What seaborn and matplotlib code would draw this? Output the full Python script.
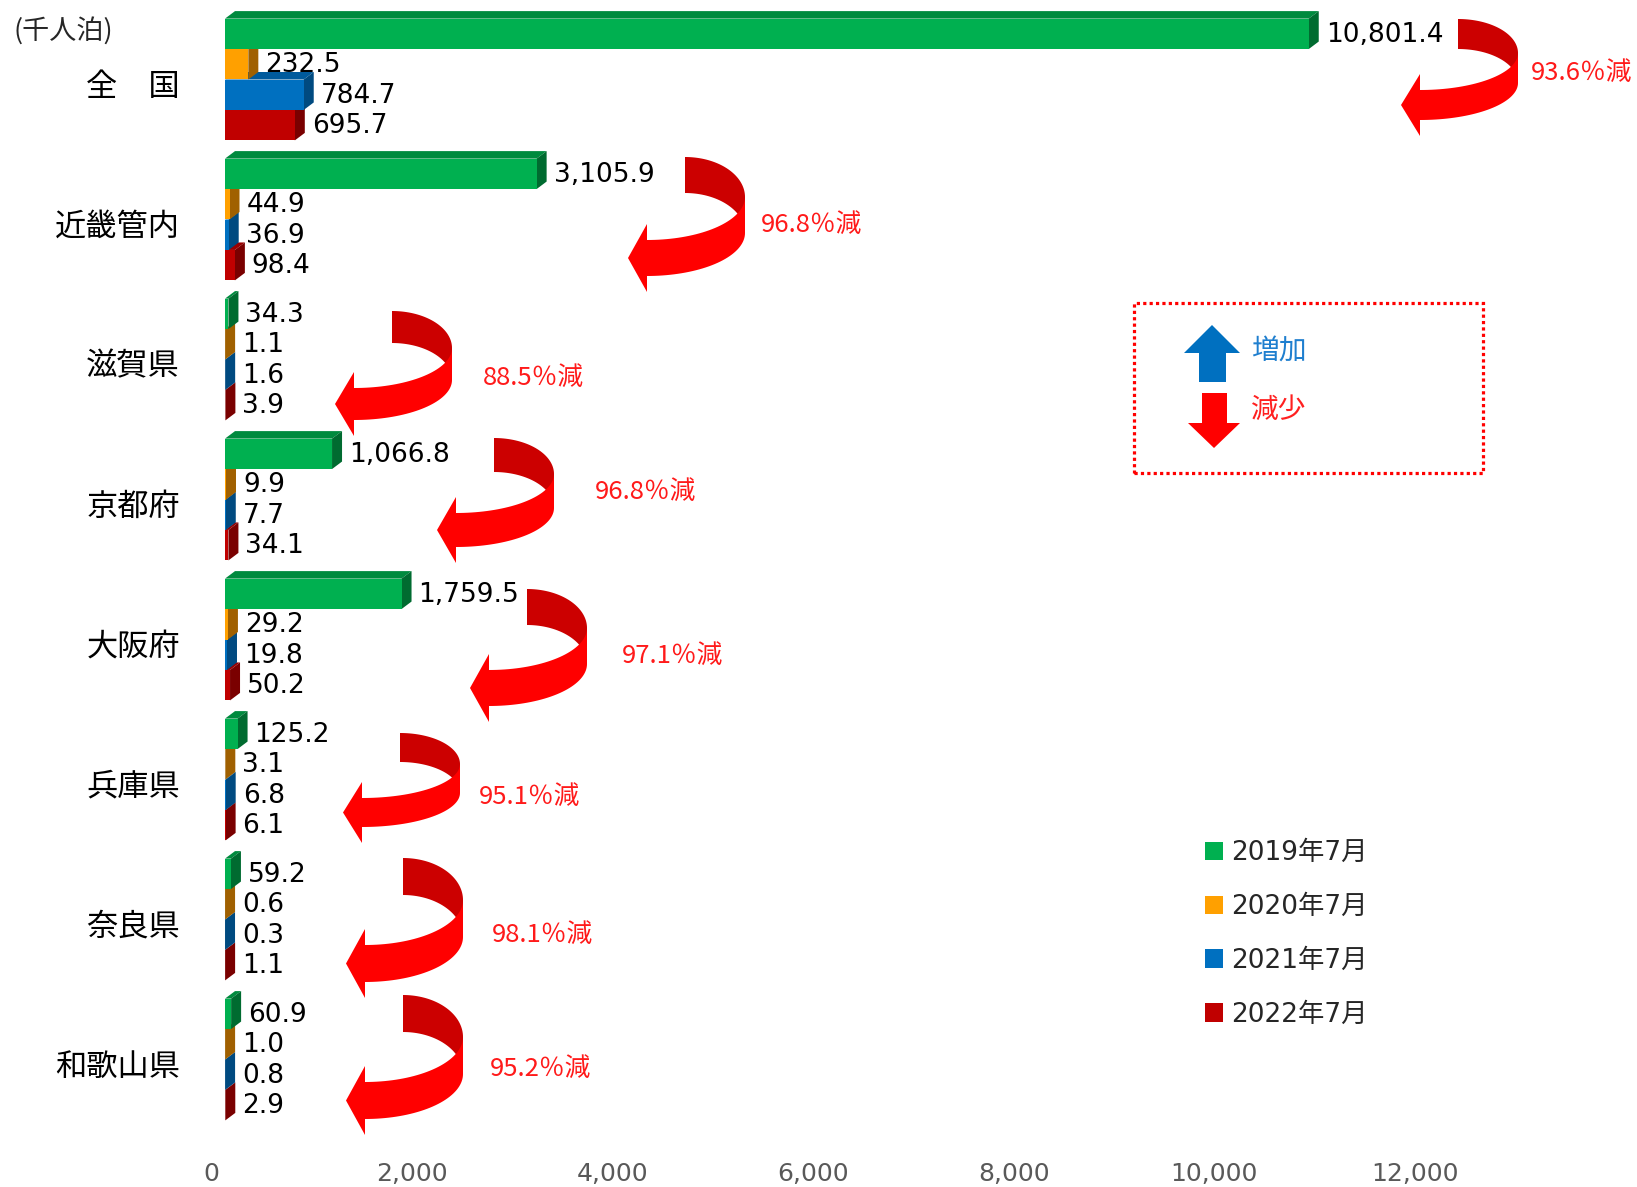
import matplotlib
matplotlib.use("Agg")
import numpy as np
import pandas as pd
import matplotlib.pyplot as plt
import seaborn as sns
from matplotlib.patches import Polygon, Rectangle
from matplotlib.transforms import ScaledTranslation

# ---------------- data ----------------
regions = ['全　国', '近畿管内', '滋賀県', '京都府', '大阪府', '兵庫県', '奈良県', '和歌山県']
periods = ['2019年7月', '2020年7月', '2021年7月', '2022年7月']
v2019 = [10801.4, 3105.9, 34.3, 1066.8, 1759.5, 125.2, 59.2, 60.9]
v2020 = [232.5, 44.9, 1.1, 9.9, 29.2, 3.1, 0.6, 1.0]
v2021 = [784.7, 36.9, 1.6, 7.7, 19.8, 6.8, 0.3, 0.8]
v2022 = [695.7, 98.4, 3.9, 34.1, 50.2, 6.1, 1.1, 2.9]
change_labels = ['93.6％減', '96.8％減', '88.5％減', '96.8％減',
                 '97.1％減', '95.1％減', '98.1％減', '95.2％減']
xtick_values = [0, 2000, 4000, 6000, 8000, 10000, 12000]
unit_label = '(千人泊)'
key_up, key_down = '増加', '減少'

# ---------------- layout / style ----------------
W, H = 1637, 1187
front_cols = ['#00B050', '#FFA000', '#0070C0', '#C00000']
top_cols = ['#008A3E', '#C87E00', '#005A9C', '#990000']
side_cols = ['#006B30', '#A06000', '#004A80', '#7A0000']
CJK = ['Noto Sans CJK JP', 'DejaVu Sans']
# curved arrows: (x of back start, top y, ellipse b, band thickness) in pixels
ARROWS = [(1458, 19, 34, 30), (685, 157, 40, 36), (392, 311, 37, 32), (494, 438, 36, 34),
          (527, 589, 39, 36), (400, 733, 31, 29), (403, 858, 42, 37), (403, 995, 42, 37)]
PCT_POS = [(1531, 71), (761, 223), (483, 376), (595, 490), (622, 654),
           (479, 795), (492, 933), (490, 1067)]
CJK_DY = 3  # px downward nudge for CJK text centring


def P(x, y):
    return (x / W, 1 - y / H)


sns.set_theme(style='white')
plt.rcParams['font.family'] = ['DejaVu Sans', 'Noto Sans CJK JP']

fig = plt.figure(figsize=(W / 100, H / 100), dpi=100)
ax_left, ax_top, ax_bot = 225, 9.5, 1129.5
ax = fig.add_axes([ax_left / W, 1 - ax_bot / H, (W - ax_left) / W, (ax_bot - ax_top) / H])

df = pd.DataFrame({
    'region': np.repeat(regions, 4),
    'period': periods * len(regions),
    'value': np.ravel(np.column_stack([v2019, v2020, v2021, v2022])),
})

sns.barplot(data=df, y='region', x='value', hue='period', hue_order=periods,
            order=regions, palette=front_cols, orient='h', width=0.87,
            saturation=1, dodge=True, ax=ax, linewidth=0, legend=True)

px_per_unit = 1204 / 12000.0
xmax = (W - ax_left) / px_per_unit
ax.set_xlim(0, xmax)
ax.set_ylim(len(regions) - 0.5, -0.5)

# 3D faces derived from seaborn's bar patches
ypx = (ax_bot - ax_top) / len(regions)  # px per category unit
dx_d = 10 / px_per_unit
dy_d = 7.5 / ypx
col_index = {matplotlib.colors.to_hex(c): i for i, c in enumerate(front_cols)}
bars = [p for p in ax.patches if isinstance(p, Rectangle) and abs(p.get_height()) > 0]
for p in bars:
    hi = col_index.get(matplotlib.colors.to_hex(p.get_facecolor()), None)
    if hi is None:
        continue
    x0, y0 = p.get_x(), p.get_y()
    w, h = p.get_width(), p.get_height()
    ytop, ybot = min(y0, y0 + h), max(y0, y0 + h)
    z = 3 + (4 - hi) * 0.2
    p.set_zorder(z)
    top = Polygon([(x0, ytop), (x0 + w, ytop), (x0 + w + dx_d, ytop - dy_d), (x0 + dx_d, ytop - dy_d)],
                  closed=True, facecolor=top_cols[hi], edgecolor='none', zorder=z - 0.05)
    side = Polygon([(x0 + w, ytop), (x0 + w + dx_d, ytop - dy_d), (x0 + w + dx_d, ybot - dy_d), (x0 + w, ybot)],
                   closed=True, facecolor=side_cols[hi], edgecolor='none', zorder=z - 0.05)
    ax.add_patch(top)
    ax.add_patch(side)
    ax.annotate(f'{w:,.1f}', xy=(x0 + w, (ytop + ybot) / 2), xytext=(17 * 0.72, -1 * 0.72),
                textcoords='offset points', ha='left', va='center', fontsize=19,
                color='black', zorder=10)

# axes styling
for s in ax.spines.values():
    s.set_visible(False)
ax.set_xlabel('')
ax.set_ylabel('')
ax.set_xticks(xtick_values)
ax.set_xticklabels([f'{v:,}' for v in xtick_values])
ax.tick_params(axis='x', length=0, pad=23.4, labelsize=18, labelcolor='#595959')
ax.tick_params(axis='y', length=0, pad=32.4, labelsize=22.5, labelcolor='black')
for lbl in ax.get_xticklabels():
    lbl.set_transform(lbl.get_transform() + ScaledTranslation(-14 / 100, 0, fig.dpi_scale_trans))
for lbl in ax.get_yticklabels():
    lbl.set_fontfamily(CJK)
    lbl.set_transform(lbl.get_transform() + ScaledTranslation(0, -3.5 / 100, fig.dpi_scale_trans))
ax.grid(False)

# legend
handles, labels = ax.get_legend_handles_labels()
if ax.get_legend() is not None:
    ax.get_legend().remove()
leg = fig.legend(handles, labels, loc='upper left', bbox_to_anchor=P(1205, 840),
                 bbox_transform=fig.transFigure, frameon=False, fontsize=19,
                 handlelength=0.7, handleheight=0.7, handletextpad=0.3,
                 labelspacing=1.06, borderpad=0, borderaxespad=0)
for t in leg.get_texts():
    t.set_fontfamily(['DejaVu Sans', 'Noto Sans CJK JP'])

# unit label
fig.text(*P(14, 28 + CJK_DY), unit_label, fontsize=19.5, family=CJK, ha='left', va='center')


# curved arrows
def curved_arrow(cx, ytop, b, t):
    a, a2 = 60, 98
    cyT = ytop + b
    fx = cx + a - a2
    b2 = b + 3
    th = np.linspace(np.pi / 2, 0, 40)
    back = [P(cx + a * np.cos(v), cyT - b * np.sin(v)) for v in th]
    back += [P(cx + a * np.cos(v), cyT + t - b * np.sin(v)) for v in th[::-1]]
    fig.add_artist(Polygon(back, closed=True, facecolor='#CC0000', edgecolor='none',
                           transform=fig.transFigure, zorder=6))
    ph = np.linspace(0, np.pi / 2, 40)
    front = [P(fx + a2 * np.cos(v), cyT + b2 * np.sin(v)) for v in ph]
    hh = 16
    front += [P(fx, cyT + b2 - hh), P(fx - 19, cyT + b2 + t / 2), P(fx, cyT + b2 + t + hh)]
    front += [P(fx + a2 * np.cos(v), cyT + t + b2 * np.sin(v)) for v in ph[::-1]]
    fig.add_artist(Polygon(front, closed=True, facecolor='#FF0000', edgecolor='none',
                           transform=fig.transFigure, zorder=7))


for (cx, yt, b, t), lab, (tx, ty) in zip(ARROWS, change_labels, PCT_POS):
    curved_arrow(cx, yt, b, t)
    fig.text(*P(tx, ty + CJK_DY - 1), lab, fontsize=18.5, family=CJK, color='#FF1A1A',
             ha='left', va='center')

# key box
x0b, y0b, x1b, y1b = 1134, 303, 1483, 473
box = Rectangle(P(x0b, y1b), (x1b - x0b) / W, (y1b - y0b) / H, transform=fig.transFigure,
                fill=False, edgecolor='#FF0000', linewidth=2.3, linestyle=(0, (1, 1)), zorder=6)
fig.add_artist(box)
up = [P(1212, 325), P(1240, 353), P(1226, 353), P(1226, 382), P(1199, 382), P(1199, 353), P(1184, 353)]
fig.add_artist(Polygon(up, closed=True, facecolor='#0070C0', edgecolor='none',
                       transform=fig.transFigure, zorder=6))
down = [P(1202, 393), P(1227, 393), P(1227, 423), P(1240, 423), P(1214, 448), P(1188, 423), P(1202, 423)]
fig.add_artist(Polygon(down, closed=True, facecolor='#FF0000', edgecolor='none',
                       transform=fig.transFigure, zorder=6))
fig.text(*P(1251, 349 + CJK_DY), key_up, fontsize=20, family=CJK, color='#1F7FCF', ha='left', va='center')
fig.text(*P(1251, 407 + CJK_DY), key_down, fontsize=20, family=CJK, color='#FF2020', ha='left', va='center')

fig.savefig('out.png', dpi=100)
